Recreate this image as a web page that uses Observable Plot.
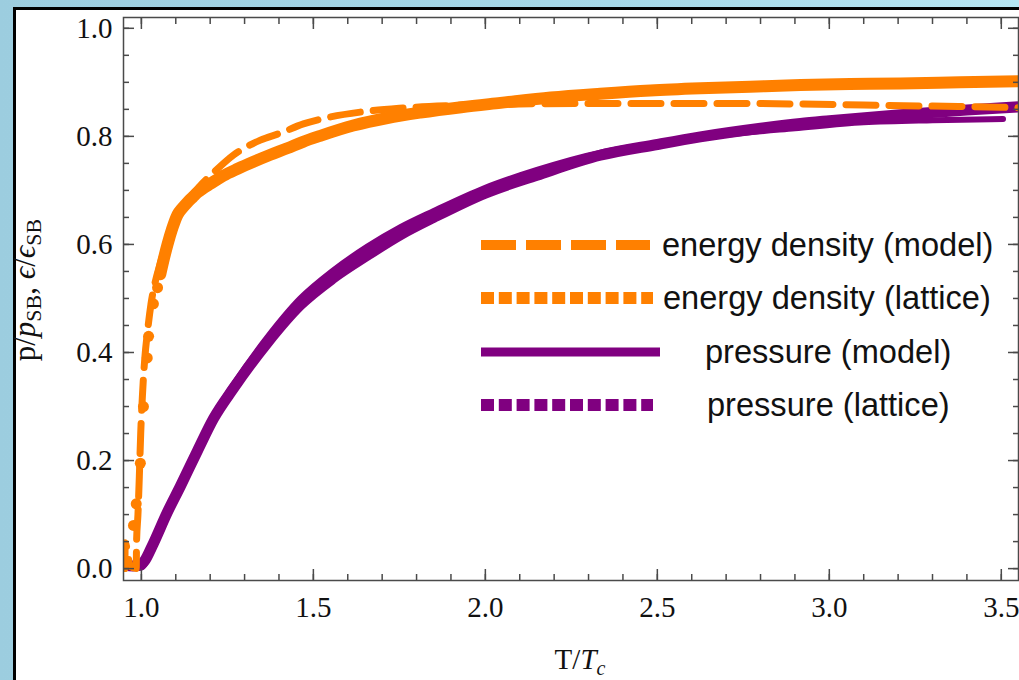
<!DOCTYPE html>
<html><head><meta charset="utf-8">
<script src="https://cdn.jsdelivr.net/npm/d3@7"></script>
<script src="https://cdn.jsdelivr.net/npm/@observablehq/plot@0.6"></script>
<style>
html,body{margin:0;padding:0;}
body{width:1019px;height:680px;overflow:hidden;position:relative;background:linear-gradient(90deg,#9ccddf 0%,#a6d8e8 60%,#b6e5f2 100%);}
#panel{position:absolute;left:13px;top:7px;width:1006px;height:673px;background:#fff;border-left:3px solid #000;border-top:3px solid #000;box-sizing:border-box;}
#chart{position:absolute;left:0;top:0;}
</style></head><body><div id="panel"></div><div id="chart"></div>
<script>
// ---- tick values ----
const xTicksMajor = [1.0, 1.5, 2.0, 2.5, 3.0, 3.5];
const xTicksMinor = [1.0,1.1,1.2,1.3,1.4,1.5,1.6,1.7,1.8,1.9,2.0,2.1,2.2,2.3,2.4,2.5,2.6,2.7,2.8,2.9,3.0,3.1,3.2,3.3,3.4,3.5];
const yTicksMajor = [0.0, 0.2, 0.4, 0.6, 0.8, 1.0];
const yTicksMinor = [0,0.05,0.1,0.15,0.2,0.25,0.3,0.35,0.4,0.45,0.5,0.55,0.6,0.65,0.7,0.75,0.8,0.85,0.9,0.95,1.0];

// ---- energy density (model) ----
const eModelT = [0.952,0.953,0.968,0.985,0.986,0.990,0.994,0.998,1.003,1.010,1.018,1.028,1.040,1.055,1.072,1.092,1.115,1.14,1.17,1.21,1.267,1.346,1.404,1.471,1.55,1.65,1.75,1.9,2.1,2.3,2.5,2.7,2.9,3.1,3.3,3.5,3.55];
const eModelV = [0.0,0.048,0.004,0.0,0.05,0.10,0.17,0.25,0.32,0.39,0.44,0.49,0.53,0.565,0.60,0.63,0.66,0.685,0.708,0.733,0.765,0.793,0.806,0.823,0.836,0.846,0.852,0.857,0.86,0.861,0.861,0.861,0.86,0.858,0.856,0.854,0.853];

// ---- energy density (lattice) ----
const eLatT = [0.977,0.985,0.997,1.006,1.017,1.021,1.035,1.047,1.055,1.064,1.076,1.09,1.105,1.12,1.134,1.15,1.163,1.18,1.2,1.238,1.28,1.326,1.375,1.424,1.47,1.52,1.616,1.715,1.811,1.93,2.044,2.19,2.334,2.48,2.625,2.77,2.916,3.06,3.206,3.38,3.56];
const eLatV = [0.08,0.12,0.195,0.30,0.39,0.43,0.49,0.52,0.545,0.57,0.60,0.63,0.655,0.668,0.678,0.688,0.696,0.704,0.712,0.727,0.74,0.753,0.766,0.778,0.79,0.801,0.82,0.834,0.844,0.854,0.862,0.872,0.879,0.885,0.889,0.892,0.895,0.897,0.898,0.9,0.902];

// ---- pressure (model) ----
const pModelT = [0.95,1.0,1.02,1.05,1.1,1.163,1.21,1.267,1.366,1.462,1.558,1.657,1.753,1.85,2.0,2.15,2.334,2.5,2.7,2.9,3.1,3.3,3.505];
const pModelV = [0.002,0.002,0.02,0.06,0.135,0.222,0.283,0.34,0.428,0.5,0.552,0.596,0.632,0.662,0.705,0.738,0.77,0.787,0.803,0.815,0.826,0.83,0.832];

// ---- pressure (lattice) ----
const pLatT = [0.95,0.975,0.995,1.01,1.03,1.076,1.113,1.163,1.21,1.267,1.366,1.462,1.558,1.657,1.753,1.85,2.0,2.15,2.334,2.5,2.625,2.8,2.916,3.0,3.206,3.4,3.56];
const pLatV = [0.006,0.005,0.006,0.015,0.04,0.105,0.152,0.218,0.278,0.333,0.418,0.488,0.538,0.58,0.618,0.65,0.695,0.728,0.765,0.785,0.799,0.815,0.824,0.829,0.84,0.849,0.855];

const legendLabels = ["energy density (model)", "energy density (lattice)", "pressure (model)", "pressure (lattice)"];

const ORANGE = "#ff8000", PURPLE = "#800080", AXIS = "#4a4a4a";
const zip = (T, V) => T.map((t, i) => ({T: t, v: V[i]}));
const eModel = zip(eModelT, eModelV), eLat = zip(eLatT, eLatV);
const pModel = zip(pModelT, pModelV), pLat = zip(pLatT, pLatV);

const serif = "'Liberation Serif', 'Times New Roman', serif";
const CURVE = "monotone-x";

const chart = Plot.plot({
  width: 1019, height: 680,
  marginLeft: 123, marginTop: 17, marginRight: 1, marginBottom: 100,
  style: {background: "transparent", fontFamily: serif, fontSize: "29px", color: "#111", overflow: "visible"},
  x: {domain: [0.948, 3.55]},
  y: {domain: [-0.022, 1.02]},
  marks: [
    // pressure lattice (thick dotted band)
    Plot.line(pLat, {x: "T", y: "v", curve: CURVE, stroke: PURPLE, strokeWidth: 11, strokeLinecap: "round", strokeLinejoin: "round", clip: true}),
    // pressure model (solid)
    Plot.line(pModel, {x: "T", y: "v", curve: CURVE, stroke: PURPLE, strokeWidth: 6, clip: true}),
    // energy lattice: dense band + dots
    Plot.line(eLat.filter(d => d.T >= 1.055), {x: "T", y: "v", curve: CURVE, stroke: ORANGE, strokeWidth: 12, strokeLinecap: "round", strokeLinejoin: "round", clip: true}),
    Plot.dot(eLat.filter(d => d.T < 1.11), {x: "T", y: "v", r: 5.5, fill: ORANGE, stroke: "none"}),
    // energy model (dashed)
    Plot.line(eModel, {x: "T", y: "v", curve: CURVE, stroke: ORANGE, strokeWidth: 7, strokeDasharray: "30,13", clip: true}),
    Plot.frame({stroke: AXIS, strokeWidth: 1.5}),
    // inward ticks: bottom/top minor + major
    Plot.axisX(xTicksMinor, {anchor: "bottom", tickSize: 6, dy: -6, fill: "none", stroke: AXIS, strokeWidth: 1.5}),
    Plot.axisX(xTicksMajor, {anchor: "bottom", tickSize: 11, dy: -11, fill: "none", stroke: AXIS, strokeWidth: 1.5}),
    Plot.axisX(xTicksMinor, {anchor: "top", tickSize: 6, dy: 6, fill: "none", stroke: AXIS, strokeWidth: 1.5}),
    Plot.axisX(xTicksMajor, {anchor: "top", tickSize: 11, dy: 11, fill: "none", stroke: AXIS, strokeWidth: 1.5}),
    Plot.axisY(yTicksMinor, {anchor: "left", tickSize: 6, dx: 6, fill: "none", stroke: AXIS, strokeWidth: 1.5}),
    Plot.axisY(yTicksMajor, {anchor: "left", tickSize: 11, dx: 11, fill: "none", stroke: AXIS, strokeWidth: 1.5}),
    Plot.axisY(yTicksMinor, {anchor: "right", tickSize: 6, dx: -6, fill: "none", stroke: AXIS, strokeWidth: 1.5}),
    Plot.axisY(yTicksMajor, {anchor: "right", tickSize: 11, dx: -11, fill: "none", stroke: AXIS, strokeWidth: 1.5}),
    // tick labels
    Plot.axisX(xTicksMajor, {anchor: "bottom", tickSize: 0, tickPadding: 16, tickFormat: d => d.toFixed(1), label: null, fontSize: 29, fill: "#111"}),
    Plot.axisY(yTicksMajor, {anchor: "left", tickSize: 0, tickPadding: 11, tickFormat: d => d.toFixed(1), label: null, fontSize: 29, fill: "#111"})
  ]
});
document.getElementById("chart").appendChild(chart);

const svg = d3.select(chart);
// axis titles
const xl = svg.append("text").attr("x", 580).attr("y", 669).attr("text-anchor", "middle")
  .style("font-family", serif).style("font-size", "29px").attr("fill", "#111");
xl.append("tspan").text("T/");
xl.append("tspan").attr("font-style", "italic").text("T");
xl.append("tspan").attr("font-style", "italic").attr("font-size", "20px").attr("dy", 6).text("c");

const yl = svg.append("text").attr("transform", "translate(35,290) rotate(-90)").attr("text-anchor", "middle")
  .style("font-family", serif).style("font-size", "31px").attr("fill", "#111");
yl.append("tspan").text("p/");
yl.append("tspan").attr("font-style", "italic").text("p");
yl.append("tspan").attr("font-size", "22px").attr("dy", 6).text("SB");
yl.append("tspan").attr("dy", -6).text(", ");
yl.append("tspan").attr("font-style", "italic").text("ϵ");
yl.append("tspan").text("/");
yl.append("tspan").attr("font-style", "italic").text("ϵ");
yl.append("tspan").attr("font-size", "22px").attr("dy", 6).text("SB");

// legend
const rows = [
  {y: 245, color: ORANGE, dash: "35,10", w: 10, x2: 650, tx: 662},
  {y: 298, color: ORANGE, dash: "13,4.8", w: 12, x2: 653, tx: 663},
  {y: 352, color: PURPLE, dash: null, w: 9, x2: 660, tx: 705},
  {y: 405, color: PURPLE, dash: "13,4.8", w: 12, x2: 653, tx: 707}
];
const lg = svg.append("g");
rows.forEach((r, i) => {
  const ln = lg.append("line").attr("x1", 481).attr("x2", r.x2).attr("y1", r.y).attr("y2", r.y)
    .attr("stroke", r.color).attr("stroke-width", r.w);
  if (r.dash) ln.attr("stroke-dasharray", r.dash);
  lg.append("text").attr("x", r.tx).attr("y", r.y + 11).attr("text-anchor", "start").text(legendLabels[i])
    .style("font-family", "'Liberation Sans', Arial, sans-serif").style("font-size", "32.6px").attr("fill", "#111");
});
</script></body></html>
